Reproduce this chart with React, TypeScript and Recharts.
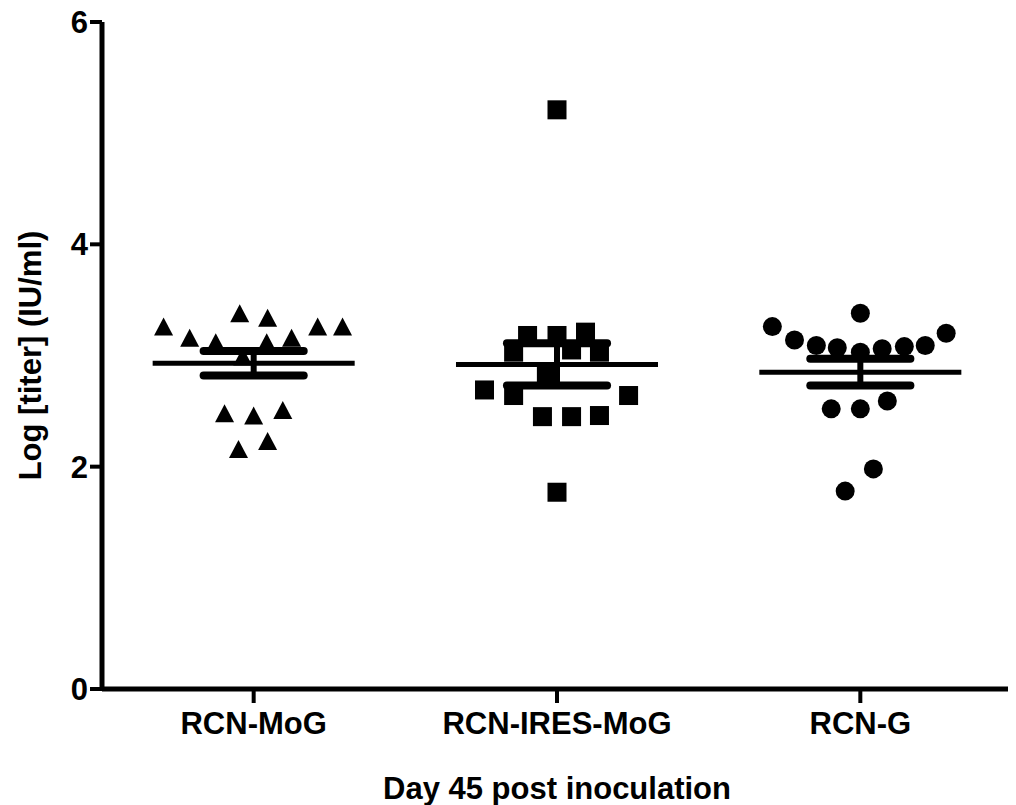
import { ScatterChart, Scatter, XAxis, YAxis, ReferenceLine } from "recharts";

const groups = ["RCN-MoG", "RCN-IRES-MoG", "RCN-G"];
const yTicks = [0, 2, 4, 6];

// log titer per animal, plus the horizontal spread of each dot inside its column
const mogTiter = [3.26, 3.16, 3.12, 3.38, 3.34, 3.12, 3.16, 3.26, 3.26, 2.99, 2.48, 2.46, 2.51, 2.16, 2.23];
const mogSpread = [-0.297, -0.211, -0.125, -0.046, 0.046, 0.043, 0.125, 0.211, 0.293, -0.036, -0.096, 0, 0.096, -0.05, 0.046];

const iresTiter = [5.21, 3.18, 3.18, 3.21, 3.03, 3.05, 3.03, 2.82, 2.69, 2.64, 2.64, 2.45, 2.45, 2.46, 1.77];
const iresSpread = [0, -0.097, 0, 0.094, -0.143, 0.048, 0.14, -0.035, -0.239, -0.143, 0.236, -0.048, 0.048, 0.14, 0];

const gTiter = [3.26, 3.38, 3.14, 3.2, 3.09, 3.09, 3.07, 3.03, 3.06, 3.08, 2.52, 2.52, 2.59, 1.98, 1.78];
const gSpread = [-0.29, 0, -0.217, 0.283, 0.214, -0.145, -0.076, 0, 0.072, 0.145, -0.096, 0, 0.089, 0.043, -0.05];

const groupMean = [2.93, 2.92, 2.85];
const groupSem = [0.11, 0.19, 0.12];

const toPoints = (titer: number[], spread: number[], g: number) =>
  titer.map((y, i) => ({ x: g + spread[i], y }));

const font = "'Liberation Sans', Arial, Helvetica, sans-serif";
const fs = 31;

const Triangle = (p: any) => (
  <polygon
    points={`${p.cx},${p.cy - 9} ${p.cx + 9.5},${p.cy + 9} ${p.cx - 9.5},${p.cy + 9}`}
    fill="#000"
  />
);
const Square = (p: any) => <rect x={p.cx - 9.5} y={p.cy - 9.5} width={19} height={19} fill="#000" />;
const Dot = (p: any) => <circle cx={p.cx} cy={p.cy} r={9.5} fill="#000" />;

export default function App() {
  return (
    <div style={{ fontFamily: font }}>
      <ScatterChart width={1008} height={797} margin={{ top: 14, right: 4, bottom: 0, left: 0 }}>
        <XAxis
          type="number"
          dataKey="x"
          domain={[-0.5, 2.5]}
          ticks={[0, 1, 2]}
          interval={0}
          tickFormatter={(v: number) => groups[v]}
          axisLine={{ stroke: "#000", strokeWidth: 5 }}
          tickLine={{ stroke: "#000", strokeWidth: 4 }}
          tickSize={14}
          tickMargin={9}
          tick={{ fill: "#000", fontSize: fs, fontWeight: "bold", fontFamily: font }}
          height={116}
          label={{
            content: (props: any) => {
              const vb = props.viewBox;
              return (
                <text
                  x={vb.x + vb.width / 2}
                  y={vb.y + 110}
                  textAnchor="middle"
                  fill="#000"
                  fontSize={fs}
                  fontWeight="bold"
                  fontFamily={font}
                >
                  Day 45 post inoculation
                </text>
              );
            },
          }}
        />
        <YAxis
          type="number"
          dataKey="y"
          domain={[0, 6]}
          ticks={yTicks}
          interval={0}
          axisLine={{ stroke: "#000", strokeWidth: 5 }}
          tickLine={{ stroke: "#000", strokeWidth: 4 }}
          tickSize={12}
          tickMargin={2}
          tick={{ fill: "#000", fontSize: fs, fontWeight: "bold", fontFamily: font }}
          width={94}
          label={{
            content: (props: any) => {
              const vb = props.viewBox;
              const cx = 22;
              const cy = vb.y + vb.height / 2;
              return (
                <text
                  x={cx}
                  y={cy}
                  transform={`rotate(-90 ${cx} ${cy})`}
                  textAnchor="middle"
                  dominantBaseline="central"
                  fill="#000"
                  fontSize={fs}
                  fontWeight="bold"
                  fontFamily={font}
                >
                  Log [titer] (IU/ml)
                </text>
              );
            },
          }}
        />
        <Scatter data={toPoints(mogTiter, mogSpread, 0)} shape={Triangle} isAnimationActive={false} />
        <Scatter data={toPoints(iresTiter, iresSpread, 1)} shape={Square} isAnimationActive={false} />
        <Scatter data={toPoints(gTiter, gSpread, 2)} shape={Dot} isAnimationActive={false} />
        {groupMean.map((m, i) => (
          <ReferenceLine
            key={`mean-${i}`}
            segment={[{ x: i - 0.333, y: m }, { x: i + 0.333, y: m }]}
            stroke="#000"
            strokeWidth={5}
          />
        ))}
        {groupMean.map((m, i) => (
          <ReferenceLine
            key={`bar-${i}`}
            segment={[{ x: i, y: m - groupSem[i] }, { x: i, y: m + groupSem[i] }]}
            stroke="#000"
            strokeWidth={6}
          />
        ))}
        {groupMean.map((m, i) => (
          <ReferenceLine
            key={`hi-${i}`}
            segment={[{ x: i - 0.165, y: m + groupSem[i] }, { x: i + 0.165, y: m + groupSem[i] }]}
            stroke="#000"
            strokeWidth={8}
            strokeLinecap="round"
          />
        ))}
        {groupMean.map((m, i) => (
          <ReferenceLine
            key={`lo-${i}`}
            segment={[{ x: i - 0.165, y: m - groupSem[i] }, { x: i + 0.165, y: m - groupSem[i] }]}
            stroke="#000"
            strokeWidth={8}
            strokeLinecap="round"
          />
        ))}
      </ScatterChart>
    </div>
  );
}
